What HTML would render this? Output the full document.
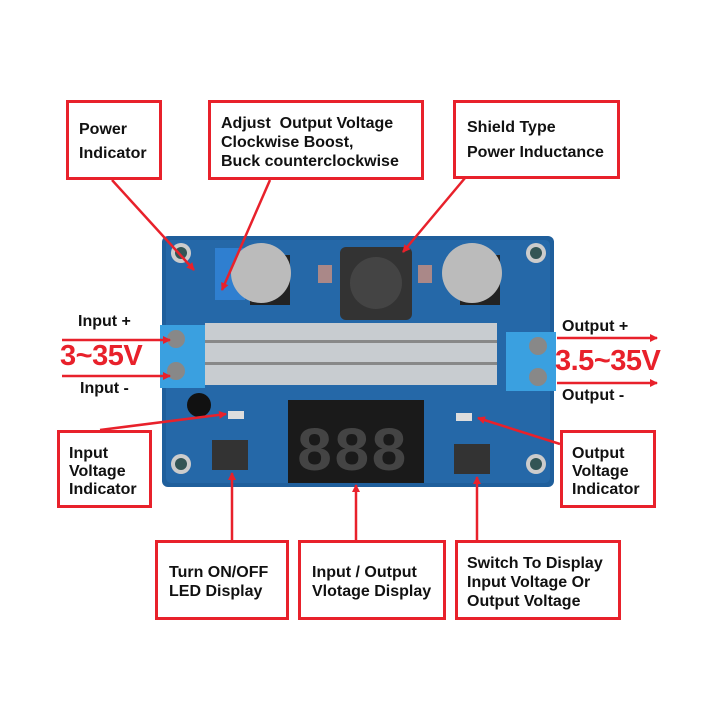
<!DOCTYPE html>
<html><head><style>
body{margin:0;width:720px;height:720px;background:#fff;position:relative;overflow:hidden;font-family:"Liberation Sans",sans-serif;}
.b{position:absolute;border:3px solid #e8212b;background:#fff;box-sizing:border-box;font-weight:bold;font-size:16px;color:#111;line-height:19px;}
.t{position:absolute;font-weight:bold;color:#111;font-size:16px;}
.r{position:absolute;font-weight:bold;color:#e8212b;font-size:29px;letter-spacing:-0.5px;}
</style></head><body>
<svg width="720" height="720" style="position:absolute;left:0;top:0">
<defs><marker id="a" markerWidth="8" markerHeight="8" refX="7" refY="4" orient="auto" markerUnits="userSpaceOnUse"><path d="M0,0 L8,4 L0,8z" fill="#e8212b"/></marker></defs>
<rect x="162" y="236" width="392" height="251" rx="6" fill="#1f5f9c"/>
<rect x="166" y="240" width="384" height="243" rx="5" fill="#2568a8"/>
<circle cx="181" cy="253" r="10" fill="#ccc"/><circle cx="181" cy="253" r="6" fill="#355"/>
<circle cx="536" cy="253" r="10" fill="#ccc"/><circle cx="536" cy="253" r="6" fill="#355"/>
<circle cx="181" cy="464" r="10" fill="#ccc"/><circle cx="181" cy="464" r="6" fill="#355"/>
<circle cx="536" cy="464" r="10" fill="#ccc"/><circle cx="536" cy="464" r="6" fill="#355"/>
<rect x="215" y="248" width="30" height="52" fill="#2f7fd0"/>
<rect x="250" y="255" width="40" height="50" fill="#222"/>
<circle cx="261" cy="273" r="30" fill="#bbb"/>
<rect x="340" y="247" width="72" height="73" rx="6" fill="#333"/><circle cx="376" cy="283" r="26" fill="#444"/>
<rect x="460" y="255" width="40" height="50" fill="#222"/>
<circle cx="472" cy="273" r="30" fill="#bbb"/>
<rect x="318" y="265" width="14" height="18" fill="#a88"/><rect x="418" y="265" width="14" height="18" fill="#a88"/>
<rect x="205" y="323" width="292" height="62" fill="#c8ccd0"/>
<rect x="205" y="340" width="292" height="3" fill="#888"/><rect x="205" y="362" width="292" height="3" fill="#888"/>
<rect x="160" y="325" width="45" height="63" fill="#3aa0e0"/>
<circle cx="176" cy="339" r="9" fill="#888"/><circle cx="176" cy="371" r="9" fill="#888"/>
<rect x="506" y="332" width="50" height="59" fill="#3aa0e0"/>
<circle cx="538" cy="346" r="9" fill="#888"/><circle cx="538" cy="377" r="9" fill="#888"/>
<circle cx="199" cy="405" r="12" fill="#111"/>
<rect x="288" y="400" width="136" height="83" fill="#1a1a1a"/>
<text x="296" y="470" font-family="Liberation Mono" font-size="62" fill="#444" font-weight="bold">888</text>
<rect x="212" y="440" width="36" height="30" fill="#333"/>
<rect x="454" y="444" width="36" height="30" fill="#333"/>
<rect x="228" y="411" width="16" height="8" fill="#ddd"/><rect x="456" y="413" width="16" height="8" fill="#ddd"/>
<g stroke="#e8212b" stroke-width="2.5" fill="none" marker-end="url(#a)">
<line x1="112" y1="180" x2="194" y2="270"/>
<line x1="270" y1="180" x2="222" y2="290"/>
<line x1="465" y1="178" x2="403" y2="252"/>
<line x1="100" y1="430" x2="226" y2="414"/>
<line x1="560" y1="444" x2="478" y2="418"/>
<line x1="232" y1="540" x2="232" y2="473"/>
<line x1="356" y1="540" x2="356" y2="485"/>
<line x1="477" y1="540" x2="477" y2="477"/>
<line x1="62" y1="340" x2="170" y2="340"/>
<line x1="62" y1="376" x2="170" y2="376"/>
<line x1="557" y1="338" x2="657" y2="338"/>
<line x1="557" y1="383" x2="657" y2="383"/>
</g>
</svg>
<div class="b" style="left:66px;top:100px;width:96px;height:80px;padding:17px 0 0 10px">Power<br><span style="line-height:30px">Indicator</span></div>
<div class="b" style="left:208px;top:100px;width:216px;height:80px;padding:11px 0 0 10px">Adjust&nbsp; Output Voltage<br>Clockwise Boost,<br>Buck counterclockwise</div>
<div class="b" style="left:453px;top:100px;width:167px;height:79px;padding:15px 0 0 11px">Shield Type<br><span style="line-height:32px">Power Inductance</span></div>
<div class="b" style="left:57px;top:430px;width:95px;height:78px;padding:12px 0 0 9px;line-height:18px">Input<br>Voltage<br>Indicator</div>
<div class="b" style="left:560px;top:430px;width:96px;height:78px;padding:12px 0 0 9px;line-height:18px">Output<br>Voltage<br>Indicator</div>
<div class="b" style="left:155px;top:540px;width:134px;height:80px;padding:20px 0 0 11px">Turn ON/OFF<br>LED Display</div>
<div class="b" style="left:298px;top:540px;width:148px;height:80px;padding:20px 0 0 11px">Input / Output<br>Vlotage Display</div>
<div class="b" style="left:455px;top:540px;width:166px;height:80px;padding:11px 0 0 9px">Switch To Display<br>Input Voltage Or<br>Output Voltage</div>
<div class="t" style="left:78px;top:313px">Input +</div>
<div class="t" style="left:80px;top:380px">Input -</div>
<div class="r" style="left:60px;top:340px">3~35V</div>
<div class="t" style="left:562px;top:318px">Output +</div>
<div class="t" style="left:562px;top:387px">Output -</div>
<div class="r" style="left:555px;top:345px">3.5~35V</div>
</body></html>
